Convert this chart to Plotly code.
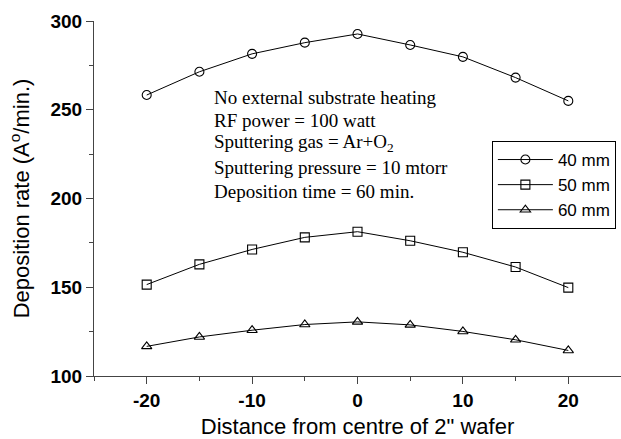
import plotly.graph_objects as go

x_pos = [-20, -15, -10, -5, 0, 5, 10, 15, 20]
rate_40 = [258.3, 271.4, 281.5, 287.8, 292.7, 286.5, 279.8, 268.1, 255.0]
rate_50 = [151.5, 162.9, 171.3, 178.1, 181.3, 176.2, 169.7, 161.4, 149.8]
rate_60 = [116.7, 122.0, 125.8, 129.0, 130.5, 128.8, 125.1, 120.4, 114.4]
series_names = ["40 mm", "50 mm", "60 mm"]
symbols = ["circle-open", "square-open", "triangle-up-open"]
x_ticks = [-20, -10, 0, 10, 20]
x_tick_labels = ["-20", "-10", "0", "10", "20"]
y_ticks = [100, 150, 200, 250, 300]
y_tick_labels = ["100", "150", "200", "250", "300"]
notes = [
    "No external substrate heating",
    "RF power = 100 watt",
    "Sputtering gas = Ar+O<sub>2</sub>",
    "Sputtering pressure = 10 mtorr",
    "Deposition time = 60 min.",
]
note_y = [256.7, 244.0, 231.0, 217.2, 204.2]

fig = go.Figure()
for name, vals, sym in zip(series_names, [rate_40, rate_50, rate_60], symbols):
    fig.add_trace(go.Scatter(
        x=x_pos, y=vals, name=name, mode="lines+markers",
        line=dict(color="black", width=1),
        marker=dict(symbol=sym, size=9, color="black", line=dict(width=1.1, color="black")),
    ))

for txt, yv in zip(notes, note_y):
    fig.add_annotation(x=-13.8, y=yv, xref="x", yref="y", text=txt, showarrow=False,
                       xanchor="left", yanchor="middle",
                       font=dict(family="Liberation Serif", size=19, color="black"))

axis_common = dict(
    showline=True, linecolor="#444", linewidth=1, ticks="outside", ticklen=7,
    tickcolor="#444", showgrid=False, zeroline=False, tickmode="array",
    tickfont=dict(family="Liberation Sans", size=19, color="black", weight="bold"),
)
fig.update_xaxes(range=[-25, 25], tickvals=x_ticks, ticktext=x_tick_labels,
                 minor=dict(dtick=5, tick0=0, ticklen=4, ticks="outside", tickcolor="#444", showgrid=False),
                 title=dict(text='Distance from centre of 2" wafer',
                            font=dict(family="Liberation Sans", size=22, color="black"), standoff=8),
                 **axis_common)
fig.update_yaxes(range=[100, 300], tickvals=y_ticks, ticktext=y_tick_labels,
                 minor=dict(dtick=25, tick0=0, ticklen=4, ticks="outside", tickcolor="#444", showgrid=False),
                 title=dict(text="Deposition rate (A<sup>o</sup>/min.)",
                            font=dict(family="Liberation Sans", size=22, color="black"), standoff=14),
                 **axis_common)

fig.update_layout(
    width=621, height=439, margin=dict(l=94, r=0, t=21, b=63),
    plot_bgcolor="white", paper_bgcolor="white",
    legend=dict(x=0.755, y=0.662, xanchor="left", yanchor="top",
                bordercolor="black", borderwidth=1, bgcolor="white",
                font=dict(family="Liberation Sans", size=17, color="black"),
                itemwidth=55, tracegroupgap=0),
)
fig.write_html("out.html")
